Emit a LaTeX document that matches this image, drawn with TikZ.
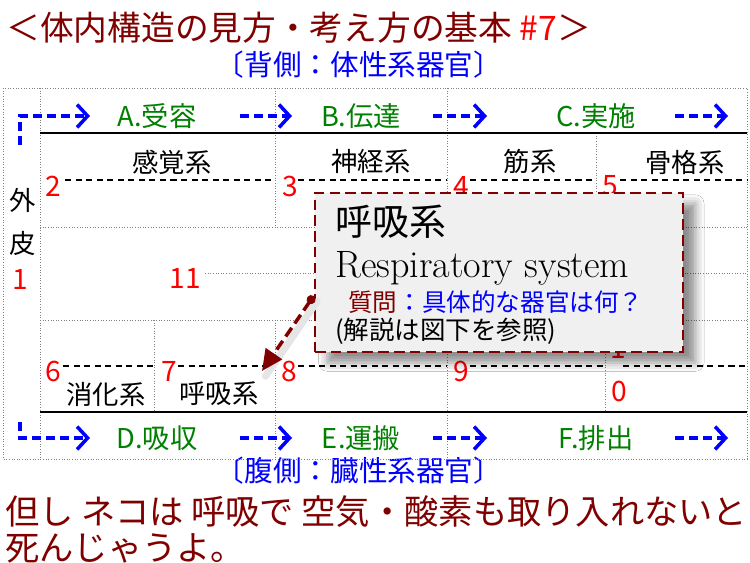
\documentclass[tikz,border=0pt]{standalone}
\usepackage{fontspec}
\newfontfamily\jp{Noto Sans CJK JP}
\usetikzlibrary{arrows.meta,shadows.blur}
\definecolor{bordo}{RGB}{128,0,0}
\definecolor{verde}{RGB}{0,128,0}

\begin{document}
\begin{tikzpicture}[x=0.02cm, y=-0.02cm,
    griglia/.style={gray, densely dotted, line width=0.5pt},
    tratti/.style={black, dash pattern=on 3.5pt off 2.5pt, line width=0.7pt},
    freccia/.style={blue, line width=2pt, dash pattern=on 5pt off 3pt,
        -{Straight Barb[length=6pt,width=13pt,line width=2pt]}},
    fase/.style={text=verde, inner sep=0pt, font=\jp\fontsize{15.5}{18}\selectfont},
    organo/.style={inner sep=0pt, align=center, font=\jp\fontsize{15}{18}\selectfont},
    numero/.style={text=red, inner sep=0pt, font=\jp\fontsize{16}{18}\selectfont},
    lato/.style={text=blue, inner sep=0pt, font=\jp\fontsize{16.3}{19}\selectfont}]
    \useasboundingbox[fill=white] (0,0) rectangle (750,563);
    % Titolo
    \node[anchor=west, inner sep=0pt, text=bordo, font=\jp\fontsize{19.2}{22}\selectfont]
        (titolo) at (6,28) {＜体内構造の見方・考え方の基本 {\color{red}\#7}＞};
    \node[lato] (dorso) at (359,65) {〔背側：体性系器官〕};
    \node[lato] (ventre) at (359,471) {〔腹側：臓性系器官〕};
    % Griglia
    \draw[griglia] (3,88) rectangle (747,459);
    \draw[griglia] (40,88) -- (40,459);
    \draw[griglia] (40,227) -- (747,227) (40,320) -- (747,320) (205,273) -- (747,273);
    \draw[griglia] (275,88) -- (275,227) (275,320) -- (275,459);
    \draw[griglia] (447,88) -- (447,227) (447,320) -- (447,459);
    \draw[griglia] (596,133) -- (596,227) (154,320) -- (154,412) (605,320) -- (605,412);
    \draw[black, line width=1.1pt] (40,133) -- (747,133) (40,412) -- (747,412);
    % Linee tratteggiate
    \draw[tratti] (65,180) -- (275,180) (298,180) -- (447,180) (470,180) -- (596,180) (620,180) -- (747,180);
    \draw[tratti] (63,366) -- (154,366) (178,366) -- (275,366) (298,366) -- (447,366)
        (470,366) -- (605,366) (623,366) -- (747,366);
    % Fasi
    \node[fase] (ricezione) at (157,116) {A.受容};
    \node[fase] (trasmissione) at (361,116) {B.伝達};
    \node[fase] (esecuzione) at (596,116) {C.実施};
    \node[fase] (assorbimento) at (157,438) {D.吸収};
    \node[fase] (trasporto) at (361,438) {E.運搬};
    \node[fase] (escrezione) at (596,438) {F.排出};
    \coordinate (a0) at (20,145);
    \coordinate (a1) at (90,116);
    \coordinate (d0) at (20,422);
    \coordinate (d1) at (90,438);
    \draw[freccia] (a0) |- (a1);
    \draw[freccia] (d0) |- (d1);
    \foreach \y in {116,438}{
        \draw[freccia] (240,\y) -- (292,\y);
        \draw[freccia] (433,\y) -- (487,\y);
        \draw[freccia] (675,\y) -- (728,\y);
    }
    % Sistemi
    \node[organo] (sensoriale) at (172,162) {感覚系};
    \node[organo] (nervoso) at (371,162) {神経系};
    \node[organo] (muscolare) at (530,162) {筋系};
    \node[organo] (scheletro) at (685,162) {骨格系};
    \node[organo] (digerente) at (106,394) {消化系};
    \node[organo] (respiro) at (219,394) {呼吸系};
    \node[organo] (pelle) at (23,222) {外\\[6pt]皮};
    % Numeri
    \node[numero] (n1) at (20,279) {1};
    \node[numero] (n2) at (53,186) {2};
    \node[numero] (n3) at (290,186) {3};
    \node[numero] (n4) at (461,186) {4};
    \node[numero] (n5) at (610,186) {5};
    \node[numero] (n6) at (53,371) {6};
    \node[numero] (n7) at (169,371) {7};
    \node[numero] (n8) at (289,371) {8};
    \node[numero] (n9) at (461,371) {9};
    \node[numero] (n10a) at (618,348) {1};
    \node[numero] (n10b) at (619,391) {0};
    \node[numero] (n11) at (185,278) {11};
    % Commento
    \node[draw=bordo, line width=1.6pt, dash pattern=on 6pt off 3pt, fill=gray!12,
        minimum width=7.36cm, minimum height=3.18cm,
        blur shadow={shadow xshift=7pt, shadow yshift=-6pt, shadow blur radius=5pt, shadow opacity=45}]
        (fumetto) at (499,272.5) {};
    \node[anchor=west, inner sep=0pt, font=\jp\fontsize{21}{24}\selectfont] (titolo2) at (335,222) {呼吸系};
    \node[anchor=west, inner sep=0pt, font=\fontsize{21.7}{25}\selectfont] (inglese) at (335,268) {Respiratory system};
    \node[anchor=west, inner sep=0pt, text=blue, font=\jp\fontsize{14}{17}\selectfont] (domanda) at (348,302)
        {{\color{bordo}質問}：具体的な器官は何？};
    \node[anchor=west, inner sep=0pt, font=\jp\fontsize{14.5}{17}\selectfont] (nota) at (335,331) {(解説は図下を参照)};
    \coordinate (punta) at (262,371);
    \draw[gray!20, line width=4pt, line cap=round] ([shift={(2pt,-3pt)}]fumetto.west |- 0,296) -- ([shift={(2pt,-3pt)}]punta);
    \draw[bordo, line width=2pt, dash pattern=on 6pt off 3pt,
        {Circle[length=5pt]}-{Triangle[length=12pt,width=11pt]}] (fumetto.west |- 0,296) -- (punta);
    % Nota finale
    \node[anchor=west, inner sep=0pt, text=bordo, font=\jp\fontsize{19.5}{22}\selectfont] (finale1) at (5,512)
        {但し ネコは 呼吸で 空気・酸素も取り入れないと};
    \node[anchor=west, inner sep=0pt, text=bordo, font=\jp\fontsize{19.5}{22}\selectfont] (finale2) at (5,548)
        {死んじゃうよ。};
\end{tikzpicture}
\end{document}
